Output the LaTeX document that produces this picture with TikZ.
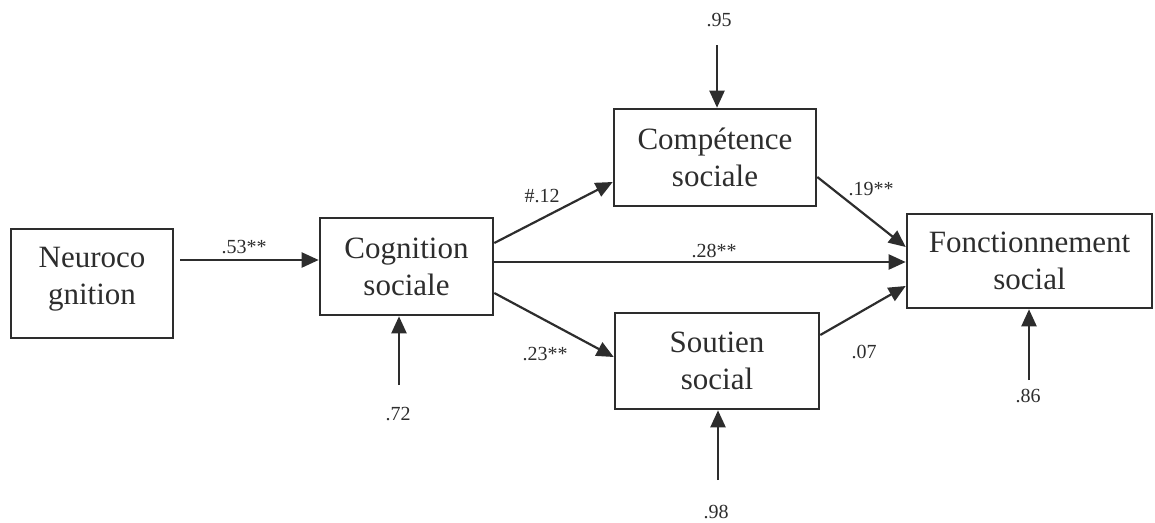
\documentclass[tikz,border=0pt]{standalone}
\usepackage{fontspec}
\setmainfont{Liberation Serif}
\usetikzlibrary{arrows.meta}
\definecolor{ink}{RGB}{45,45,45}
\begin{document}
\begin{tikzpicture}[x=1pt,y=-1pt,
  box/.style={draw=ink,line width=2.6pt,text=ink,align=center,inner sep=0pt,
    font=\fontsize{31}{37}\selectfont},
  coef/.style={text=ink,anchor=base,inner sep=0pt,font=\fontsize{20}{24}\selectfont},
  path/.style={draw=ink,line width=2.2pt,-{Triangle[length=17pt,width=15pt]}}]
\useasboundingbox (0,0) rectangle (1155,522);

% variables of the path model
\node[box,minimum width=162pt,minimum height=109pt] (neuro) at (92,283.5) {};
\node[text=ink,align=center,inner sep=0pt,font=\fontsize{31}{37}\selectfont] (neurotxt) at (92,279.5) {Neuroco\\gnition};
\node[box,minimum width=173pt,minimum height=97pt] (cog) at (406.5,266.5) {Cognition\\sociale};
\node[box,minimum width=202pt,minimum height=97pt] (comp) at (715,157.5) {Compétence\\sociale};
\node[box,minimum width=204pt,minimum height=96pt] (sout) at (717,361) {Soutien\\social};
\node[box,minimum width=245pt,minimum height=94pt] (fonct) at (1029.5,261) {Fonctionnement\\social};

% structural paths
\draw[path] ([xshift=6pt]neuro.east |- 0,260) -- (cog.west |- 0,260);
\draw[path] (cog.east |- 0,243) -- (comp.west |- 0,182);
\draw[path] (cog.east |- 0,262) -- (fonct.west |- 0,262);
\draw[path] (cog.east |- 0,293) -- (sout.west |- 0,357);
\draw[path] (comp.east |- 0,177) -- (fonct.west |- 0,247);
\draw[path] (sout.east |- 0,335) -- (fonct.west |- 0,286);

% disturbance terms
\coordinate (ecomp) at (717,45);
\coordinate (ecog) at (399,385);
\coordinate (esout) at (718,480);
\coordinate (efonct) at (1029,380);
\draw[path] (ecomp) -- (ecomp |- comp.north);
\draw[path] (ecog) -- (ecog |- cog.south);
\draw[path] (esout) -- (esout |- sout.south);
\draw[path] (efonct) -- (efonct |- fonct.south);

% coefficients
\node[coef] (c53) at (244,253) {.53**};
\node[coef] (c12) at (542,202) {\#.12};
\node[coef] (c28) at (714,257) {.28**};
\node[coef] (c23) at (545,360) {.23**};
\node[coef] (c19) at (871,195) {.19**};
\node[coef] (c07) at (864,358) {.07};
\node[coef] (c95) at (719,27) {.95};
\node[coef] (c72) at (398,420) {.72};
\node[coef] (c98) at (716,518) {.98};
\node[coef] (c86) at (1028,402) {.86};
\end{tikzpicture}
\end{document}
